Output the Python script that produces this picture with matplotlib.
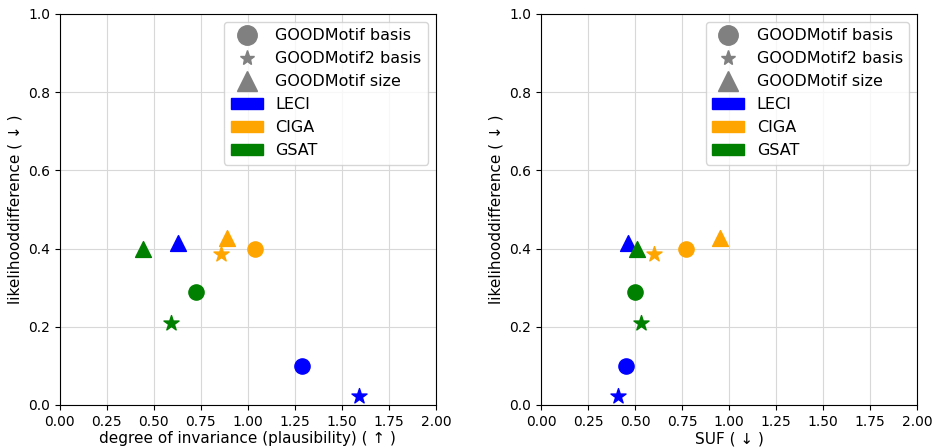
import matplotlib.pyplot as plt
from matplotlib.lines import Line2D
from matplotlib.patches import Patch

methods = ["LECI", "CIGA", "GSAT"]
colors = ["blue", "orange", "green"]
datasets = ["GOODMotif basis", "GOODMotif2 basis", "GOODMotif size"]
markers = ["o", "*", "^"]

# rows: method, cols: dataset
plausibility = [[1.29, 1.59, 0.63],
                [1.04, 0.855, 0.89],
                [0.727, 0.594, 0.44]]
suf = [[0.45, 0.41, 0.46],
       [0.77, 0.60, 0.95],
       [0.50, 0.53, 0.51]]
likelihood_diff = [[0.10, 0.023, 0.414],
                   [0.40, 0.386, 0.427],
                   [0.289, 0.21, 0.40]]

fig, axes = plt.subplots(1, 2, figsize=(9.34, 4.48), dpi=100)
plt.subplots_adjust(left=0.064, right=0.982, top=0.969, bottom=0.096, wspace=0.28)

for ax, xvals, xlabel in zip(axes, [plausibility, suf],
                             ["degree of invariance (plausibility) ( ↑ )", "SUF ( ↓ )"]):
    for i, c in enumerate(colors):
        for j, m in enumerate(markers):
            ax.scatter(xvals[i][j], likelihood_diff[i][j], color=c, marker=m,
                       s=120 if m == "o" else 130, zorder=3)
    ax.set_xlim(0, 2)
    ax.set_ylim(0, 1)
    ax.grid(True, color="#d8d8d8")
    ax.set_axisbelow(True)
    ax.set_xlabel(xlabel, fontsize=11, labelpad=2)
    ax.set_ylabel("likelihooddifference ( ↓ )", fontsize=11)

    handles = [Line2D([], [], color="gray", marker=m, linestyle="none",
                      markersize=14 if m != "*" else 11) for m in markers]
    handles += [Patch(color=c) for c in colors]
    ax.legend(handles, datasets + methods, loc="upper right", fontsize=11.5,
              handlelength=2.0)

plt.savefig("out.png")
